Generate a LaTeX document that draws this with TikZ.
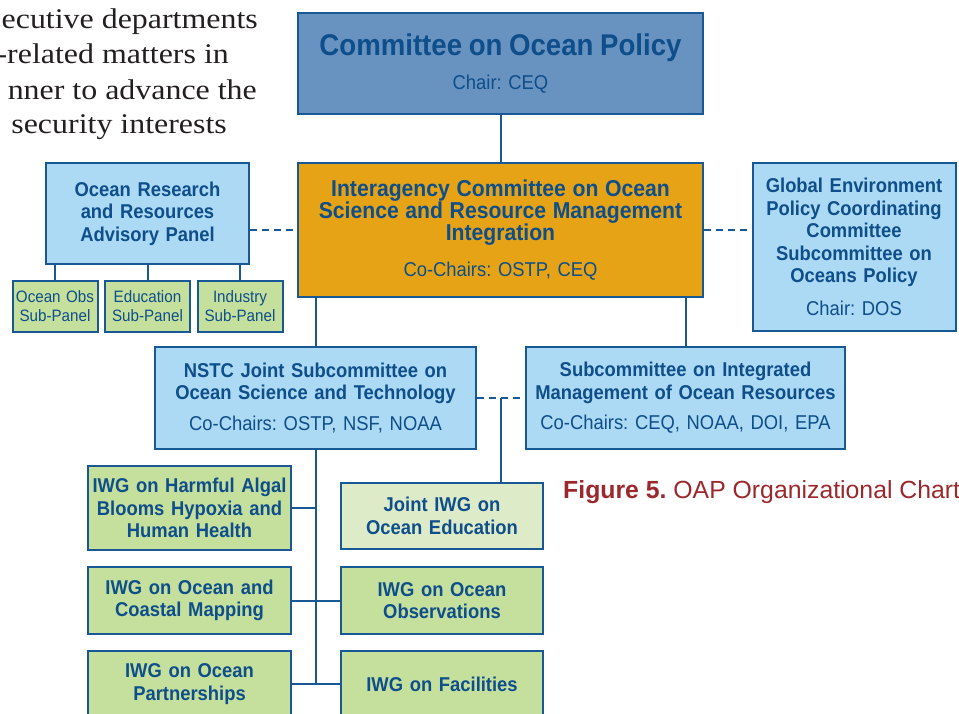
\documentclass[tikz,border=0pt]{standalone}
\usepackage{fontspec}
\newfontfamily\chartfont{Liberation Sans}[FakeStretch=0.92]
\newfontfamily\capfont{Liberation Sans}
\newfontfamily\prosefont{Liberation Serif}[FakeStretch=1.12]
\definecolor{chartline}{RGB}{24,88,148}
\definecolor{charttext}{RGB}{14,78,138}
\definecolor{copblue}{RGB}{104,146,192}
\definecolor{icmgold}{RGB}{230,163,22}
\definecolor{panelblue}{RGB}{172,217,243}
\definecolor{iwggreen}{RGB}{197,223,157}
\definecolor{jointgreen}{RGB}{222,235,201}
\definecolor{capred}{RGB}{155,40,45}
\definecolor{prosegray}{RGB}{35,31,32}
\begin{document}
\frenchspacing
\begin{tikzpicture}[x=1pt, y=-1pt,
    orgbox/.style={draw=chartline, line width=2pt, inner sep=0pt, align=center,
        text=charttext, font=\chartfont\bfseries\fontsize{20}{22.5}\selectfont},
    topbox/.style={orgbox, fill=copblue},
    icmbox/.style={orgbox, fill=icmgold},
    panelbox/.style={orgbox, fill=panelblue},
    subbox/.style={orgbox, fill=iwggreen, font=\chartfont\fontsize{16.5}{19.5}\selectfont},
    iwgbox/.style={orgbox, fill=iwggreen},
    jointbox/.style={orgbox, fill=jointgreen},
    link/.style={draw=chartline, line width=2pt},
    dashlink/.style={link, dash pattern=on 7pt off 5pt},
    prose/.style={anchor=base east, inner sep=0pt, text=prosegray,
        font=\prosefont\fontsize{28.5}{35}\selectfont}]
    \useasboundingbox (0,0) rectangle (959,713);
    \clip (0,0) rectangle (959,713);

    \node[prose] (l1) at (258,28) {ecutive departments};
    \node[prose] (l2) at (229,63) {-related matters in};
    \node[prose] (l3) at (257,99) {nner to advance the};
    \node[prose] (l4) at (227,133) {security interests};

    \node[topbox, minimum width=405, minimum height=101, text width=395] (cop) at (500.5,63.5)
        {{\fontsize{30}{32}\selectfont Committee on Ocean Policy\par}
         \vspace{11pt}\mdseries Chair: CEQ};
    \node[icmbox, minimum width=405, minimum height=134, text width=395] (icm) at (500.5,230)
        {{\fontsize{23}{22}\selectfont Interagency Committee on Ocean\\ Science and Resource Management\\ Integration\par}
         \vspace{13pt}\mdseries Co-Chairs: OSTP, CEQ};
    \node[panelbox, minimum width=203, minimum height=101, text width=195] (orrap) at (147.5,213.5)
        {Ocean Research\\ and Resources\\ Advisory Panel};
    \node[subbox, minimum width=85, minimum height=51, text width=83] (obs) at (55,306) {Ocean Obs\\ Sub-Panel};
    \node[subbox, minimum width=85, minimum height=51, text width=83] (edu) at (147.5,306) {Education\\ Sub-Panel};
    \node[subbox, minimum width=85, minimum height=51, text width=83] (ind) at (240,306) {Industry\\ Sub-Panel};
    \node[panelbox, minimum width=203, minimum height=168, text width=195] (gepc) at (854,247)
        {Global Environment\\ Policy Coordinating\\ Committee\\ Subcommittee on\\ Oceans Policy\par
         \vspace{10pt}\mdseries Chair: DOS};
    \node[panelbox, minimum width=321, minimum height=102, text width=311] (nstc) at (315.5,398)
        {NSTC Joint Subcommittee on\\ Ocean Science and Technology\par
         \vspace{8pt}\mdseries Co-Chairs: OSTP, NSF, NOAA};
    \node[panelbox, minimum width=319, minimum height=102, text width=311] (simor) at (685.5,398)
        {Subcommittee on Integrated\\ Management of Ocean Resources\par
         \vspace{8pt}\mdseries Co-Chairs: CEQ, NOAA, DOI, EPA};
    \node[iwgbox, minimum width=203, minimum height=84, text width=197] (harm) at (189.5,508)
        {IWG on Harmful Algal\\ Blooms Hypoxia and\\ Human Health};
    \node[jointbox, minimum width=202, minimum height=66, text width=196] (joint) at (442,516)
        {Joint IWG on\\ Ocean Education};
    \node[iwgbox, minimum width=203, minimum height=67, text width=197] (map) at (189.5,600.5)
        {IWG on Ocean and\\ Coastal Mapping};
    \node[iwgbox, minimum width=202, minimum height=67, text width=196] (obsv) at (442,600.5)
        {IWG on Ocean\\ Observations};
    \node[iwgbox, minimum width=203, minimum height=66, text width=197] (part) at (189.5,684)
        {IWG on Ocean\\ Partnerships};
    \node[iwgbox, minimum width=202, minimum height=66, text width=196] (fac) at (442,684)
        {IWG on Facilities};

    \node[anchor=base west, inner sep=0pt, text=capred, font=\capfont\fontsize{24.8}{28}\selectfont] (cap) at (563,498)
        {\textbf{Figure 5.} OAP Organizational Chart};

    \draw[link] (cop) -- (icm);
    \draw[dashlink] (icm.west -| orrap.east) -- (icm.west);
    \draw[dashlink] (icm.east) -- (icm.east -| gepc.west);
    \foreach \p in {obs,edu,ind}
        \draw[link] (\p.north |- orrap.south) -- (\p.north);
    \draw[link] (icm.south -| nstc.north) -- (nstc.north);
    \draw[link] (icm.south -| simor.north) -- (simor.north);
    \draw[dashlink] (nstc.east) -- (simor.west);
    \coordinate (jlink) at (501,398);
    \draw[link] (jlink) -- (jlink |- joint.north);
    \draw[link] (nstc.south) -- (nstc.south |- fac.west);
    \draw[link] (harm.east) -- (harm.east -| nstc.south);
    \draw[link] (map.east) -- (obsv.west);
    \draw[link] (part.east) -- (fac.west);
\end{tikzpicture}
\end{document}
